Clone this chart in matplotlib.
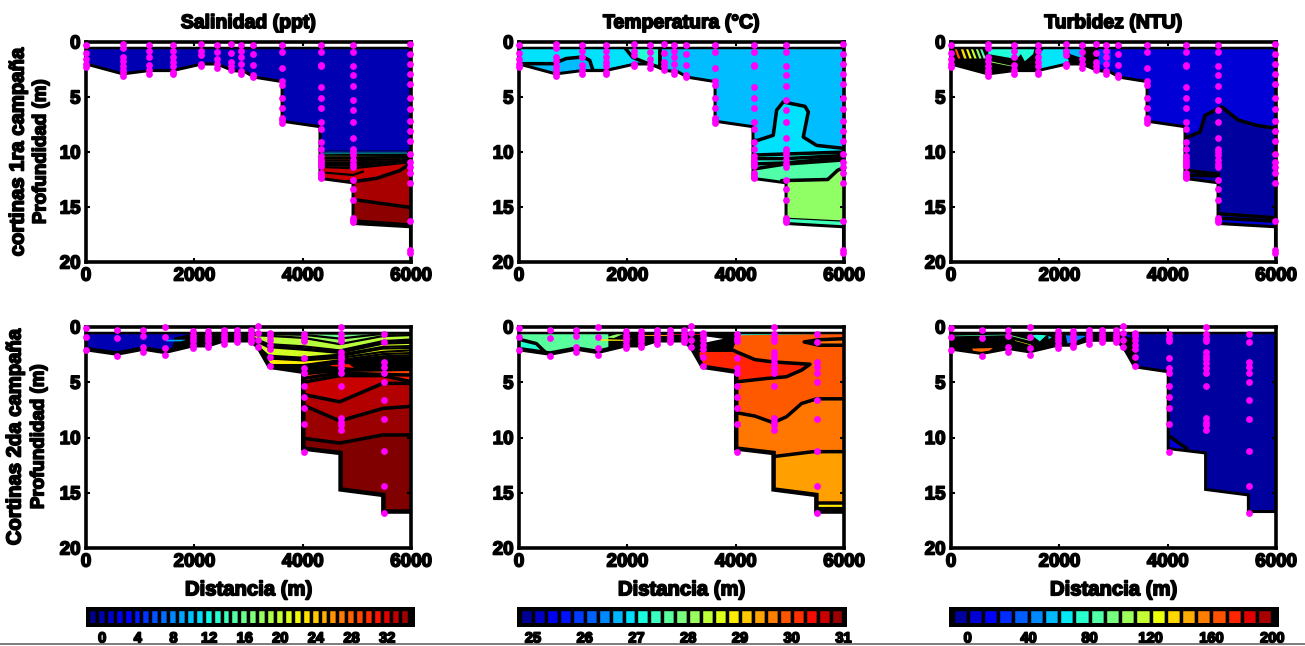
import matplotlib
matplotlib.use("Agg")
import matplotlib.pyplot as plt
import matplotlib.patheffects as pe
from matplotlib.colors import Normalize
from matplotlib.lines import Line2D
from matplotlib.patches import Polygon

W, H = 1305, 646
PX = 72 / 100
plt.rcParams['font.family'] = ['Liberation Sans', 'DejaVu Sans']
plt.rcParams['font.weight'] = 'bold'

titles = ["Salinidad (ppt)", "Temperatura (°C)", "Turbidez (NTU)"]
row_labels = [("cortinas 1ra campaña", "Profundidad (m)"), ("Cortinas 2da campaña", "Profundidad (m)")]
xlabel = "Distancia (m)"
x_ticks = [0, 2000, 4000, 6000]
y_ticks = [0, 5, 10, 15, 20]

# seabed profiles
bottom1_x = [0, 680, 1160, 1600, 2140, 2420, 2710, 2930, 3110, 3620, 3620, 4320, 4320, 4930, 4930, 5990, 5990]
bottom1_d = [2.0, 2.9, 2.6, 2.6, 2.0, 2.0, 2.6, 2.7, 3.2, 3.6, 7.2, 7.7, 12.4, 12.8, 16.5, 16.8, 19.5]
bottom2_x = [0, 570, 1060, 1450, 1965, 2250, 2540, 2780, 3040, 3180, 3390, 4010, 4010, 4700, 4700, 5490, 5490, 6000]
bottom2_d = [2.0, 2.4, 1.95, 2.25, 1.65, 1.65, 1.2, 1.2, 1.2, 1.8, 3.6, 4.05, 11.0, 11.4, 14.7, 15.2, 16.7, 16.7]

# sampling depths per station
samples1 = {
    0: [0.3, 1.0, 1.5, 2.0, 2.3],
    680: [0.2, 0.5, 1.4, 1.7, 2.2, 2.5, 2.8, 3.1],
    1160: [0.3, 0.8, 1.4, 2.1, 2.5, 2.9],
    1600: [0.3, 0.8, 1.4, 1.8, 2.2, 2.7, 2.9],
    2130: [0.2, 0.8, 1.2, 2.0, 2.2],
    2410: [0.3, 0.9, 1.5, 2.0, 2.4],
    2670: [0.2, 1.0, 1.8, 2.2, 2.5],
    2870: [0.3, 0.8, 1.4, 2.0, 2.6, 2.9],
    3080: [0.3, 1.1, 2.1, 3.0, 3.2],
    3620: [0.3, 0.9, 2.4, 3.5, 3.9, 5.1, 6.0, 6.9, 7.1, 7.4],
    4330: [0.3, 0.9, 2.1, 2.2, 4.1, 5.1, 6.0, 7.3, 7.9, 9.1, 9.7, 10.4, 10.7, 11.0, 11.3, 11.9, 12.2, 12.4],
    4930: [0.3, 0.9, 2.2, 3.0, 4.0, 5.3, 6.2, 7.3, 8.7, 9.7, 10.0, 10.3, 10.7, 11.1, 11.4, 12.5, 13.4, 14.4, 16.0, 16.2, 16.4],
    5990: [0.2, 1.1, 2.0, 2.9, 3.8, 5.1, 6.1, 7.2, 8.1, 9.0, 10.2, 10.9, 11.4, 11.9, 12.8, 16.3, 18.9, 19.2],
}
samples2 = {
    0: [0.1, 0.9, 2.1],
    570: [0.3, 1.0, 2.6],
    1060: [0.3, 0.8, 1.8, 2.3],
    1450: [0.0, 0.9, 1.9, 2.5],
    1970: [0.4, 0.7, 1.0, 1.3, 1.6, 1.9],
    2250: [0.4, 0.7, 1.0, 1.3, 1.6, 1.8],
    2540: [0.3, 0.6, 0.9, 1.2, 1.5],
    2780: [0.3, 0.6, 0.9, 1.2, 1.4],
    3040: [0.3, 0.6, 0.9, 1.2, 1.4],
    3170: [-0.1, 0.5, 1.2, 1.8],
    3390: [0.5, 0.8, 1.2, 1.6, 2.0, 2.7, 3.5],
    4020: [0.6, 1.0, 1.3, 2.8, 3.7, 4.2, 5.3, 6.3, 7.3, 8.8, 11.3],
    4700: [0.0, 0.6, 1.0, 1.3, 2.3, 2.6, 2.9, 3.3, 3.7, 4.2, 5.3, 8.2, 8.6, 8.9, 9.3],
    5500: [0.6, 1.4, 3.2, 3.6, 4.2, 5.0, 6.6, 8.3, 11.2, 14.4, 16.8],
}

# colour bar levels
sal_levels = [-1.1, -0.1, 0.9, 1.9, 2.9, 3.9, 4.9, 5.9, 6.9, 7.9, 8.9, 9.9, 10.9, 11.9, 12.9, 13.9, 14.9, 15.9,
              16.9, 17.9, 18.9, 19.9, 20.9, 21.9, 22.9, 23.9, 24.9, 25.9, 26.9, 27.9, 28.9, 29.9, 30.9, 31.9, 32.9, 33.9]
sal_ticks = [0, 4, 8, 12, 16, 20, 24, 28, 32]
temp_levels = [24.875, 25.125, 25.375, 25.625, 25.875, 26.125, 26.375, 26.625, 26.875, 27.125, 27.375, 27.625,
               27.875, 28.125, 28.375, 28.625, 28.875, 29.125, 29.375, 29.625, 29.875, 30.125, 30.375, 30.625, 30.875]
temp_ticks = [25, 26, 27, 28, 29, 30, 31]
turb_levels = [-5, 5, 15, 25, 35, 45, 55, 65, 75, 85, 95, 105, 115, 125, 135, 145, 155, 165, 175, 185, 195]
turb_ticks = [0, 40, 80, 120, 160, 200]
ranges = [(-1.6, 34.9), (24.73, 31.03), (-11, 203)]

T = 3.5   # px, thick isoline
M = 2.2   # px, medium isoline
t = 1.2   # px, thin isoline
h = 0.5   # px, hairline isoline

# Regions are painted in order: (value or colour name, x, depth, isoline width px)
sal1_regions = [
    (0, [0, 6000, 6000, 0], [0, 0, 21, 21], 0),
    (3, [4200, 6000, 6000, 4200], [9.85, 9.85, 21, 21], h),
    (6, [4200, 6000, 6000, 4200], [9.95, 9.95, 21, 21], h),
    (10, [4200, 6000, 6000, 4200], [10.05, 10.02, 21, 21], h),
    (12, [4200, 6000, 6000, 4200], [10.15, 10.12, 21, 21], h),
    (16, [4200, 6000, 6000, 4200], [10.25, 10.22, 21, 21], t),
    (20, [4200, 6000, 6000, 4200], [10.35, 10.32, 21, 21], t),
    (24, [4200, 6000, 6000, 4200], [10.45, 10.42, 21, 21], t),
    (27, [4200, 4930, 6000, 6000, 4200], [10.55, 10.55, 10.5, 21, 21], M),
    (28, [4200, 4930, 6000, 6000, 4200], [10.75, 10.75, 10.65, 21, 21], M),
    (29, [4200, 4930, 6000, 6000, 4200], [11.0, 11.0, 10.85, 21, 21], T),
    (30, [4200, 4930, 6000, 6000, 4200], [11.15, 11.2, 10.95, 21, 21], T),
    (32.5, [4200, 4926, 5788, 6000, 6000, 4200], [11.33, 11.48, 11.03, 10.95, 21, 21], M),
    ('line', [4200, 4926, 5110], [11.79, 12.09, 11.79], M),
    (33.6, [4200, 4926, 5360, 5788, 5940, 6000, 6000, 4200], [12.7, 12.7, 12.4, 11.7, 11.2, 11.1, 21, 21], T),
    (34.4, [4900, 6000, 6000, 4900], [14.3, 15.05, 21, 21], T),
    (0, [4900, 6000, 6000, 4900], [16.25, 16.65, 21, 21], T),
]
temp1_regions = [
    (26.69, [0, 6000, 6000, 0], [0, 0, 21, 21], 0),
    (26.9, [-50, 628, 875, 1183, 1306, 1367, 1614, 2130, 2476, 2600, 2600, -50],
     [1.97, 1.97, 1.5, 1.36, 1.67, 2.6, 2.6, 2.1, 2.3, 2.0, 0, 0], T),
    (27.2, [1940, 1950, 2100, 2400, 2600, 2600], [0, 0.5, 1.4, 2.0, 2.3, 0], T),
    (26.9, [4300, 4400, 4694, 4756, 4879, 5279, 5341, 5248, 5495, 6050, 6050, 4300],
     [8.9, 8.95, 8.48, 6.2, 5.45, 5.85, 6.36, 8.64, 9.4, 9.7, 21, 21], T),
    (27.1, [4200, 6050, 6050, 4200], [10.3, 10.0, 21, 21], T),
    (27.2, [4200, 4930, 6050, 6050, 4200], [10.6, 10.6, 10.3, 21, 21], T),
    (27.35, [4200, 4900, 6050, 6050, 4200], [11.1, 11.0, 10.5, 21, 21], T),
    (27.54, [4200, 4900, 6050, 6050, 4200], [11.65, 11.1, 10.7, 21, 21], T),
    (28.05, [4850, 5700, 5880, 6050, 6050, 4850], [12.6, 12.5, 11.67, 11.3, 21, 21], T),
    (27.4, [4850, 6050, 6050, 4850], [16.0, 16.3, 21, 21], t),
]
turb1_regions = [
    (5, [0, 6000, 6000, 0], [0, 0, 21, 21], 0),
    (-5, [4200, 4339, 4597, 4689, 4997, 5305, 5643, 6050, 6050, 4200], [8.7, 8.7, 8.18, 6.67, 5.9, 7.1, 7.58, 7.88, 21, 21], T),
    ('line', [4200, 4930], [11.6, 12.0], T),
    ('line', [4200, 4930], [12.1, 12.15], T),
    (5, [4900, 6050, 6050, 4900], [15.6, 16.0, 21, 21], T),
    ('line', [4900, 6050], [16.0, 16.3], T),
    ('black', [-50, 2720, 2720, -50], [0, 0, 4, 4], 0),
    (27, [2730, 2950, 2950, 2730], [0.6, 0.6, 1.9, 2.1], 0),
    (55, [2170, 2440, 2440, 2200, 2170], [0.6, 0.6, 1.5, 1.1, 0.9], 0),
    (64, [1650, 1720, 2080, 2080, 2180, 2100, 1650], [1.0, 0.55, 0.55, 1.1, 1.7, 2.1, 2.7], 0),
    (72, [688, 1546, 1516, 1363, 1290, 1210, 688], [0.55, 0.55, 1.1, 1.75, 1.1, 1.55, 1.1], 0),
    (165, [60, 100, 175, 130], [0.55, 0.55, 1.5, 1.5], 0),
    (135, [175, 220, 290, 240], [0.55, 0.55, 1.5, 1.5], 0),
    (125, [270, 310, 385, 340], [0.55, 0.55, 1.5, 1.5], 0),
    (115, [360, 400, 475, 430], [0.55, 0.55, 1.5, 1.5], 0),
    (100, [450, 490, 565, 520], [0.55, 0.55, 1.5, 1.5], 0),
    (85, [530, 570, 645, 600], [0.55, 0.55, 1.5, 1.5], 0),
    (105, [680, 1200, 1200, 680], [1.7, 2.25, 2.3, 1.8], 0),
]

# isolines of the second-campaign salinity, depth at each x below
sal2_x = [1650, 2000, 3000, 3365, 4008, 4685, 5480, 6050]
sal2_rows = [
    (10, [1.00, 0.62, 0.50, 0.50, 0.50, 0.50, 0.50, 0.45], t),
    (16, [1.05, 0.70, 0.55, 0.55, 0.55, 0.60, 0.55, 0.50], M),
    (18, [1.10, 0.80, 0.62, 0.65, 0.70, 1.05, 0.62, 0.58], M),
    (19.5, [1.15, 0.90, 0.70, 0.80, 0.98, 1.55, 0.82, 0.72], M),
    (20, [1.20, 0.95, 0.80, 1.55, 1.75, 2.12, 1.28, 1.12], M),
    (20, [1.25, 1.00, 0.90, 1.70, 1.92, 2.25, 1.40, 1.28], M),
    (20.5, [1.30, 1.05, 0.95, 1.82, 2.05, 2.35, 1.50, 1.42], M),
    (21.5, [1.35, 1.10, 1.00, 2.60, 2.78, 2.50, 1.80, 1.72], M),
    (21.5, [1.40, 1.15, 1.05, 2.72, 2.88, 2.65, 1.95, 1.90], M),
    (22.5, [1.45, 1.20, 1.10, 2.85, 3.02, 2.80, 2.25, 2.10], M),
    (23.5, [1.50, 1.25, 1.15, 3.45, 3.45, 3.00, 2.45, 2.35], M),
    (24.5, [1.55, 1.30, 1.20, 3.60, 3.60, 3.10, 2.65, 2.55], M),
    (26, [1.60, 1.35, 1.25, 3.70, 3.70, 3.20, 2.90, 2.85], 5),
    (27, [1.65, 1.40, 1.30, 3.80, 3.80, 3.35, 3.15, 3.10], 5),
    (28, [1.70, 1.45, 1.35, 3.90, 3.95, 3.60, 3.45, 3.40], 5),
    (29, [1.75, 1.50, 1.40, 4.00, 4.15, 3.85, 3.80, 3.75], 5),
    (30.5, [1.80, 1.55, 1.45, 4.10, 4.65, 4.15, 4.30, 4.35], T),
    (32.5, [1.85, 1.60, 1.50, 4.20, 5.00, 4.40, 4.40, 5.00], T),
    (33.3, [1.90, 1.65, 1.55, 4.30, 6.10, 6.77, 5.10, 5.10], T),
    (34.0, [1.95, 1.70, 1.60, 4.40, 7.07, 8.50, 7.37, 7.16], T),
    (34.9, [2.00, 1.75, 1.65, 4.50, 10.07, 10.50, 9.77, 9.77], T),
]
sal2_regions = [(0, [0, 6000, 6000, 0], [0, 0, 21, 21], 0)]
sal2_patches = [
    (9, [1480, 1850, 1750, 1480], [1.15, 1.15, 1.3, 1.3], 0),
    (30.5, [4500, 4850, 4950, 4550], [3.45, 3.35, 3.7, 3.55], 0),
]

temp2_regions = [
    (27.2, [0, 6000, 6000, 0], [0, 0, 21, 21], 0),
    (27.62, [-50, 320, 510, 1700, 1700, -50], [1.05, 1.5, 2.4, 2.4, 0, 0], T),
    ('black', [1650, 4000, 4100, 3955, 3300, 1650], [0, 0, 0.75, 2.1, 2.1, 2.1], 0),
    (29.87, [3950, 4050, 6050, 6050, 3950], [2.0, 0.75, 0.6, 21, 21], 0),
    (29.66, [3950, 4016, 4355, 4694, 4940, 5218, 5495, 6050, 6050, 3950],
     [7.76, 7.76, 8.06, 8.66, 8.12, 6.92, 6.5, 6.5, 21, 21], T),
    (29.39, [4600, 4694, 5434, 6050, 6050, 4600], [11.73, 11.73, 11.28, 11.28, 21, 21], T),
    (28.9, [5400, 6050, 6050, 5400], [15.9, 15.9, 21, 21], T),
    (28.6, [5400, 6050, 6050, 5400], [16.3, 16.3, 21, 21], t),
    (27.5, [5400, 6050, 6050, 5400], [16.5, 16.5, 21, 21], T),
    (30.2, [3300, 3955, 4016, 4355, 4694, 5372, 5218, 4940, 4571, 4016, 3300],
     [2.1, 2.1, 2.25, 2.95, 3.16, 3.37, 3.9, 4.5, 4.66, 4.96, 4.96], T),
    (29.66, [6050, 5540, 5264, 5540, 6050], [1.05, 1.15, 1.35, 1.65, 1.65], T),
    ('black', [3300, 6050, 6050, 3300], [0, 0, 0.62, 0.62], 0),
    ('white', [3400, 3893, 3400], [0.72, 1.05, 1.55], M),
    (28.05, [1600, 1900, 1990, 1750], [0.95, 0.5, 0.5, 1.0], 0),
    (28.9, [1500, 1950, 2100, 1950, 1500], [1.1, 1.15, 1.05, 1.25, 1.25], 0),
    (29.4, [2300, 2800, 2800, 2300], [0.72, 0.72, 0.82, 0.82], 0),
    (30.3, [2800, 3350, 3350, 2800], [0.55, 0.55, 0.68, 0.68], 0),
]
turb2_regions = [
    (-5, [0, 6000, 6000, 0], [0, 0, 21, 21], 0),
    (5, [3950, 4050, 4350, 4350, 3950], [9.85, 9.95, 11.0, 12, 12], T),
    ('black', [-50, 3120, 3380, 3440, 3440, -50], [0, 0, 0.9, 2.4, 4, 4], 0),
    (85, [60, 1060, 1060, 60], [0.78, 0.68, 0.74, 0.84], 0),
    (95, [1060, 1480, 1480, 1060], [0.68, 1.2, 1.28, 0.76], 0),
    (125, [1180, 1480, 1480, 1180], [1.2, 1.6, 1.65, 1.25], 0),
    (160, [390, 770, 700, 420], [1.95, 1.9, 2.2, 2.3], 0),
    (145, [1200, 1400, 1400, 1200], [2.0, 2.1, 2.15, 2.1], 0),
    (72, [1490, 1640, 1760, 1580], [0.75, 1.3, 0.75, 0.7], 0),
    (60, [1800, 1860, 1800], [0.8, 0.95, 1.1], 0),
    (42, [2120, 2500, 2300, 2150], [0.75, 0.8, 1.3, 1.5], 0),
    (15, [3180, 3300, 3320], [0.7, 0.7, 1.0], 0),
]
regions = [[sal1_regions, temp1_regions, turb1_regions], [sal2_regions, temp2_regions, turb2_regions]]

rows_px = [(42, 262), (327, 548)]
cols_px = [(86, 411), (519, 844), (951, 1276)]
bar_px = [(88, 413), (519, 845), (951, 1277)]
bar_levels = [sal_levels, temp_levels, turb_levels]
bar_ticks = [sal_ticks, temp_ticks, turb_ticks]
bar_steps = [1.0, 0.25, 10]
cmap = plt.get_cmap('jet')
FAT = [pe.withStroke(linewidth=1.2, foreground='black')]

fig = plt.figure(figsize=(W / 100, H / 100), dpi=100, facecolor='white')


def add_ax(l, t_, r, b):
    return fig.add_axes([l / W, 1 - b / H, (r - l) / W, (b - t_) / H])


def colour(v, norm):
    return v if isinstance(v, str) else cmap(norm(v))


def paint(ax, items, norm, water):
    for (v, xs, ds, lw) in items:
        if v == 'line':
            ln, = ax.plot(xs, ds, color='black', lw=lw * PX, solid_joinstyle='round')
            ln.set_clip_path(water)
            continue
        p = Polygon(list(zip(xs, ds)), closed=True, facecolor=colour(v, norm),
                    edgecolor='black' if lw else 'none', linewidth=lw * PX, joinstyle='round')
        ax.add_patch(p)
        p.set_clip_path(water)


for i, (top, bot) in enumerate(rows_px):
    bx, bd = (bottom1_x, bottom1_d) if i == 0 else (bottom2_x, bottom2_d)
    samples = samples1 if i == 0 else samples2
    for j, (left, right) in enumerate(cols_px):
        ax = add_ax(left, top, right, bot)
        norm = Normalize(*ranges[j])
        ax.set_xlim(0, 6000)
        ax.set_ylim(20, 0)
        water_xy = [(0, 0.5)] + list(zip(bx, bd))
        if bx[-1] != 6000:
            water_xy.append((6000, bd[-1]))
        water_xy.append((6000, 0.5))
        water = Polygon(water_xy, closed=True, transform=ax.transData, facecolor='none', edgecolor='none')
        ax.add_patch(water)
        paint(ax, regions[i][j], norm, water)
        if i == 1 and j == 0:
            for v, ds, lw in sal2_rows:
                paint(ax, [(v, sal2_x + [6050, sal2_x[0]], ds + [21, 21], lw)], norm, water)
            paint(ax, sal2_patches, norm, water)
        blw = 3 if i == 0 or j == 2 else 4.5
        ax.plot(bx, bd, color='black', lw=blw * PX, solid_joinstyle='miter', zorder=5)
        ax.plot([0, 6000], [0.5, 0.5], color='black', lw=2.5 * PX, zorder=5)
        sx = [k for k, vals in samples.items() for _ in vals]
        sd = [d for vals in samples.values() for d in vals]
        ax.scatter(sx, sd, s=(6.8 * PX) ** 2, color='#ff00ff', linewidths=0, clip_on=False, zorder=8)
        for s in ax.spines.values():
            s.set_linewidth(3.6 * PX)
            s.set_zorder(6)
        ax.tick_params(direction='in', length=3, width=1.5, top=True, right=True, pad=4, labelsize=13.5)
        ax.set_xticks(x_ticks)
        ax.set_yticks(y_ticks)
        for lab in ax.get_xticklabels() + ax.get_yticklabels():
            lab.set_path_effects(FAT)
            lab.set_fontweight('bold')
        if i == 0:
            ax.set_title(titles[j], fontsize=14, fontweight='bold', pad=10, path_effects=FAT)
        else:
            ax.set_xlabel(xlabel, fontsize=14.6, fontweight='bold', labelpad=7, path_effects=FAT)

label_x = [(18, 41), (15, 39)]
label_y = [152, 437]
for (first, second), (x1, x2), yc in zip(row_labels, label_x, label_y):
    fig.text(x1 / W, 1 - yc / H, first, rotation=90, ha='center', va='center', fontsize=14.6,
             fontweight='bold', path_effects=FAT)
    fig.text(x2 / W, 1 - yc / H, second, rotation=90, ha='center', va='center', fontsize=13.5,
             fontweight='bold', path_effects=FAT)

for j, (l, r) in enumerate(bar_px):
    ax = add_ax(l, 608.5, r, 624.5)
    norm = Normalize(*ranges[j])
    ax.set_facecolor('black')
    ax.set_xlim(*ranges[j])
    ax.set_ylim(0, 1)
    ax.bar(bar_levels[j], 1, width=bar_steps[j], bottom=0,
           color=[cmap(norm(v)) for v in bar_levels[j]], edgecolor='black', linewidth=3.4 * PX)
    ax.set_yticks([])
    ax.set_xticks(bar_ticks[j])
    ax.tick_params(length=0, pad=5, labelsize=10.5)
    for lab in ax.get_xticklabels():
        lab.set_path_effects(FAT)
        lab.set_fontweight('bold')
    for s in ax.spines.values():
        s.set_linewidth(4 * PX)

fig.add_artist(Line2D([0, 1], [1 - 643.5 / H, 1 - 643.5 / H], color='#555555', lw=1.5 * PX))
fig.savefig('out.png', dpi=100, facecolor='white')
